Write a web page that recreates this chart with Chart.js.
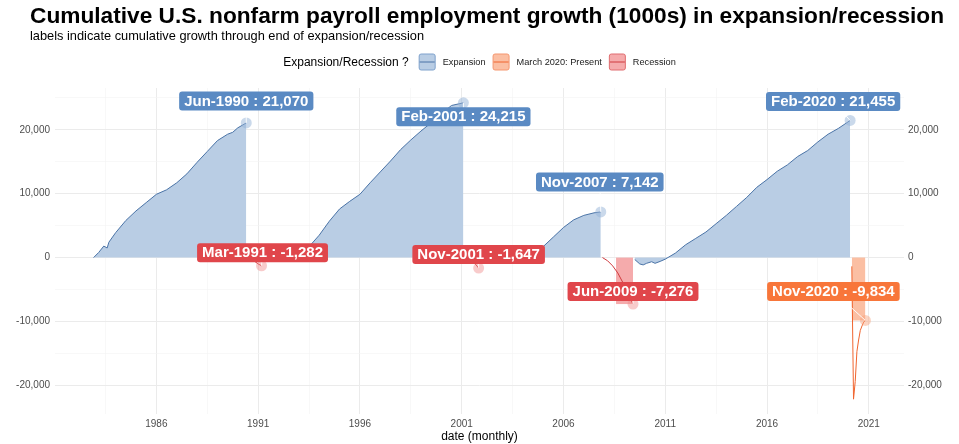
<!DOCTYPE html>
<html>
<head>
<meta charset="utf-8">
<script src="https://cdn.jsdelivr.net/npm/chart.js@4.4.0/dist/chart.umd.min.js"></script>
<style>
  html, body { margin: 0; padding: 0; background: #fff; }
  #wrap { width: 959px; height: 444px; }
</style>
</head>
<body>
<div id="wrap"><canvas id="chart" width="959" height="444"></canvas></div>
<script>
// cumulative change in nonfarm payrolls (thousands) since the start of each phase
const exp1Dates = ['1982-12','1983-03','1983-06','1983-08','1983-09','1984-01','1984-07','1985-01','1985-07','1986-01','1986-07','1987-01','1987-07','1988-01','1988-07','1989-01','1989-07','1989-10','1990-01','1990-06'];
const exp1Values = [0, 800, 1800, 1500, 2400, 3900, 5800, 7300, 8600, 9900, 10600, 11700, 13100, 14900, 16600, 18300, 19300, 19600, 20300, 21070];

const rec1Dates = ['1990-07','1990-09','1990-11','1991-01','1991-03'];
const rec1Values = [-40, -300, -600, -1000, -1282];

const exp2Dates = ['1991-04','1991-07','1992-01','1992-07','1993-01','1993-07','1994-01','1994-07','1995-01','1995-07','1996-01','1996-07','1997-01','1997-07','1998-01','1998-07','1999-01','1999-07','2000-01','2000-07','2001-02'];
const exp2Values = [-200, -300, -400, -100, 700, 1700, 3500, 5700, 7600, 8800, 9900, 11700, 13400, 15100, 16900, 18400, 19800, 21100, 22500, 23800, 24215];

const rec2Dates = ['2001-03','2001-05','2001-07','2001-09','2001-11'];
const rec2Values = [-40, -380, -600, -1000, -1647];

const exp3Dates = ['2001-12','2002-06','2003-01','2003-07','2004-01','2004-07','2005-01','2005-07','2006-01','2006-07','2007-01','2007-07','2007-11'];
const exp3Values = [-150, -400, -600, -900, -400, 700, 1700, 3200, 4700, 5900, 6600, 7000, 7142];

const rec3Dates = ['2007-12','2008-03','2008-06','2008-09','2008-12','2009-03','2009-06'];
const rec3Values = [0, -500, -1300, -2400, -3900, -5900, -7276];
const rec3BandDates = ['2008-08','2009-06'];
const rec3BandValues = [-7276, -7276];

const exp4Dates = ['2009-07','2009-10','2009-12','2010-02','2010-05','2010-07','2010-10','2011-01','2011-07','2012-01','2012-07','2013-01','2013-07','2014-01','2014-07','2015-01','2015-07','2016-01','2016-07','2017-01','2017-07','2018-01','2018-07','2019-01','2019-07','2020-02'];
const exp4Values = [-300, -1000, -1150, -900, -650, -900, -600, -250, 700, 2000, 3000, 4000, 5300, 6600, 8000, 9400, 11000, 12200, 13500, 14500, 15800, 16750, 18100, 19300, 20200, 21455];

const covidDates = ['2020-03','2020-04','2020-05','2020-06','2020-07','2020-08','2020-09','2020-10','2020-11'];
const covidValues = [-1373, -22160, -19400, -14700, -12900, -11400, -10700, -10100, -9834];
const covidBandDates = ['2020-03','2020-11'];
const covidBandValues = [-9834, -9834];

const xTickYears = [1986, 1991, 1996, 2001, 2006, 2011, 2016, 2021];
const yTickValues = [-20000, -10000, 0, 10000, 20000];

const legendItems = ['Expansion', 'March 2020: Present', 'Recession'];

// colours
const BLUE = { line: '#4a73a6', fill: '#b9cde4', label: '#5a8ac3', point: 'rgba(150,180,215,0.5)', key: '#7ea1cc' };
const ORANGE = { line: '#f0642e', fill: '#fbbfa3', label: '#f8763a', point: 'rgba(248,160,120,0.45)', key: '#f59770' };
const RED = { line: '#cf3a3e', fill: '#f5abac', label: '#e0464b', point: 'rgba(240,140,140,0.45)', key: '#e06d70' };

const MONTHS = ['Jan','Feb','Mar','Apr','May','Jun','Jul','Aug','Sep','Oct','Nov','Dec'];

function toYear(s) {
    const [y, m] = s.split('-').map(Number);
    return y + (m - 1) / 12;
}
function pts(dates, values) {
    return dates.map((d, i) => ({ x: toYear(d), y: values[i], d: d }));
}
function lastRadius(ctx) {
    return ctx.dataIndex === ctx.dataset.data.length - 1 ? 5.5 : 0;
}

function phase(dates, values, col, filled, label) {
    return {
        data: pts(dates, values),
        borderColor: col.line,
        borderWidth: 1,
        backgroundColor: col.fill,
        fill: filled ? 'origin' : false,
        pointRadius: lastRadius,
        pointBackgroundColor: col.point,
        pointBorderWidth: 0,
        pointHoverRadius: 0,
        endLabel: label
    };
}
function band(dates, values, col) {
    return {
        data: pts(dates, values),
        borderWidth: 0,
        borderColor: 'rgba(0,0,0,0)',
        backgroundColor: col.fill,
        fill: 'origin',
        pointRadius: 0
    };
}

const yearsMinor = [];
xTickYears.forEach(y => { yearsMinor.push(y - 2.5); yearsMinor.push(y); });
const yMinor = [];
for (let v = -20000; v <= 25000; v += 5000) yMinor.push(v);

// title, subtitle and legend row
const headerPlugin = {
    id: 'header',
    afterDraw(chart) {
        const ctx = chart.ctx;
        ctx.save();
        ctx.fillStyle = '#000';
        ctx.textBaseline = 'alphabetic';
        ctx.textAlign = 'left';
        ctx.font = 'bold 22.7px "Liberation Sans", Arial, sans-serif';
        ctx.fillText('Cumulative U.S. nonfarm payroll employment growth (1000s) in expansion/recession', 30, 23);
        ctx.font = '12.8px "Liberation Sans", Arial, sans-serif';
        ctx.fillText('labels indicate cumulative growth through end of expansion/recession', 30, 40);

        // legend
        const title = 'Expansion/Recession ?';
        const cols = [BLUE, ORANGE, RED];
        ctx.font = '12px "Liberation Sans", Arial, sans-serif';
        const tw = ctx.measureText(title).width;
        ctx.font = '9.2px "Liberation Sans", Arial, sans-serif';
        const lw = legendItems.map(t => ctx.measureText(t).width);
        const key = 17;
        let total = tw + 10;
        lw.forEach((w, i) => { total += key + 7 + w + (i < lw.length - 1 ? 7 : 0); });
        const area = chart.chartArea;
        let x = (area.left + area.right) / 2 - total / 2;
        const cy = 62;
        ctx.textBaseline = 'middle';
        ctx.fillStyle = '#000';
        ctx.font = '12px "Liberation Sans", Arial, sans-serif';
        ctx.fillText(title, x, cy + 0.5);
        x += tw + 10;
        ctx.font = '9.2px "Liberation Sans", Arial, sans-serif';
        legendItems.forEach((t, i) => {
            const c = cols[i];
            ctx.fillStyle = c.fill;
            ctx.strokeStyle = c.key;
            ctx.lineWidth = 1;
            ctx.beginPath();
            ctx.roundRect(x + 0.5, cy - key / 2 + 0.5, key - 1, key - 1, 2);
            ctx.fill();
            ctx.stroke();
            ctx.strokeStyle = c.line;
            ctx.beginPath();
            ctx.moveTo(x + 1, cy);
            ctx.lineTo(x + key - 1, cy);
            ctx.stroke();
            x += key + 7;
            ctx.fillStyle = '#1a1a1a';
            ctx.fillText(t, x, cy + 0.5);
            x += lw[i] + 7;
        });
        ctx.restore();
    }
};

// repel-style value labels at the end of each phase
const endLabelPlugin = {
    id: 'endLabels',
    afterDatasetsDraw(chart) {
        const ctx = chart.ctx;
        ctx.save();
        ctx.font = 'bold 15px "Liberation Sans", Arial, sans-serif';
        ctx.textAlign = 'center';
        ctx.textBaseline = 'middle';
        chart.data.datasets.forEach((ds, i) => {
            if (!ds.endLabel) return;
            const meta = chart.getDatasetMeta(i);
            const el = meta.data[meta.data.length - 1];
            const last = ds.data[ds.data.length - 1];
            const [yy, mm] = last.d.split('-').map(Number);
            const text = MONTHS[mm - 1] + '-' + yy + ' : ' + last.y.toLocaleString('en-US');
            const w = ctx.measureText(text).width + 10;
            const h = 19;
            const cx = el.x + ds.endLabel.dx;
            const cy = el.y + ds.endLabel.dy;
            // segment towards the point
            ctx.strokeStyle = 'rgba(255,255,255,0.9)';
            ctx.lineWidth = 1;
            ctx.beginPath();
            ctx.moveTo(cx, cy);
            ctx.lineTo(el.x, el.y);
            ctx.stroke();
            ctx.fillStyle = ds.endLabel.bg;
            ctx.beginPath();
            ctx.roundRect(cx - w / 2, cy - h / 2, w, h, 3);
            ctx.fill();
            ctx.fillStyle = '#fff';
            ctx.fillText(text, cx, cy + 0.5);
        });
        ctx.restore();
    }
};

const datasets = [
    phase(exp1Dates, exp1Values, BLUE, true, { dx: 0, dy: -22, bg: BLUE.label }),
    phase(rec1Dates, rec1Values, RED, false, { dx: 1, dy: -13, bg: RED.label }),
    phase(exp2Dates, exp2Values, BLUE, true, { dx: 0, dy: 14, bg: BLUE.label }),
    phase(rec2Dates, rec2Values, RED, false, { dx: 0, dy: -13.5, bg: RED.label }),
    phase(exp3Dates, exp3Values, BLUE, true, { dx: -1, dy: -30, bg: BLUE.label }),
    phase(rec3Dates, rec3Values, RED, false, { dx: 0, dy: -12.5, bg: RED.label }),
    band(rec3BandDates, rec3BandValues, RED),
    phase(exp4Dates, exp4Values, BLUE, true, { dx: -17, dy: -19, bg: BLUE.label }),
    phase(covidDates, covidValues, ORANGE, false, { dx: -32, dy: -29, bg: ORANGE.label }),
    band(covidBandDates, covidBandValues, ORANGE)
];

const tickFont = { family: '"Liberation Sans", Arial, sans-serif', size: 10 };
const majorGrid = '#ebebeb';
const minorGrid = '#f4f4f4';

new Chart(document.getElementById('chart'), {
    type: 'line',
    data: { datasets: datasets },
    options: {
        responsive: false,
        animation: false,
        devicePixelRatio: 1,
        layout: { padding: { top: 88, left: 0, right: 0, bottom: 0 } },
        plugins: {
            legend: { display: false },
            tooltip: { enabled: false },
            title: { display: false }
        },
        scales: {
            x: {
                type: 'linear',
                min: 1981.02,
                max: 2022.73,
                border: { display: false },
                afterBuildTicks: s => { s.ticks = yearsMinor.map(v => ({ value: v })); },
                afterFit: s => { s.height = 30; },
                grid: {
                    drawTicks: false,
                    color: c => xTickYears.includes(c.tick && c.tick.value) ? majorGrid : minorGrid,
                    lineWidth: c => xTickYears.includes(c.tick && c.tick.value) ? 1 : 0.6
                },
                ticks: {
                    autoSkip: false,
                    maxRotation: 0,
                    padding: 4,
                    color: '#4d4d4d',
                    font: tickFont,
                    callback: v => xTickYears.includes(v) ? String(v) : ''
                },
                title: {
                    display: true,
                    text: 'date (monthly)',
                    color: '#000',
                    font: { family: '"Liberation Sans", Arial, sans-serif', size: 12 },
                    padding: { top: 0, bottom: 0 }
                }
            },
            y: {
                type: 'linear',
                position: 'left',
                min: -24479,
                max: 26534,
                border: { display: false },
                afterBuildTicks: s => { s.ticks = yMinor.map(v => ({ value: v })); },
                afterFit: s => { s.width = 55; },
                grid: {
                    drawTicks: false,
                    color: c => yTickValues.includes(c.tick && c.tick.value) ? majorGrid : minorGrid,
                    lineWidth: c => yTickValues.includes(c.tick && c.tick.value) ? 1 : 0.6
                },
                ticks: {
                    padding: 5,
                    color: '#4d4d4d',
                    font: tickFont,
                    callback: v => yTickValues.includes(v) ? v.toLocaleString('en-US') : ''
                }
            },
            y2: {
                type: 'linear',
                position: 'right',
                min: -24479,
                max: 26534,
                border: { display: false },
                afterBuildTicks: s => { s.ticks = yTickValues.map(v => ({ value: v })); },
                afterFit: s => { s.width = 55; },
                grid: { display: false, drawTicks: false },
                ticks: {
                    padding: 4,
                    color: '#4d4d4d',
                    font: tickFont,
                    callback: v => v.toLocaleString('en-US')
                }
            }
        }
    },
    plugins: [headerPlugin, endLabelPlugin]
});
</script>
</body>
</html>
